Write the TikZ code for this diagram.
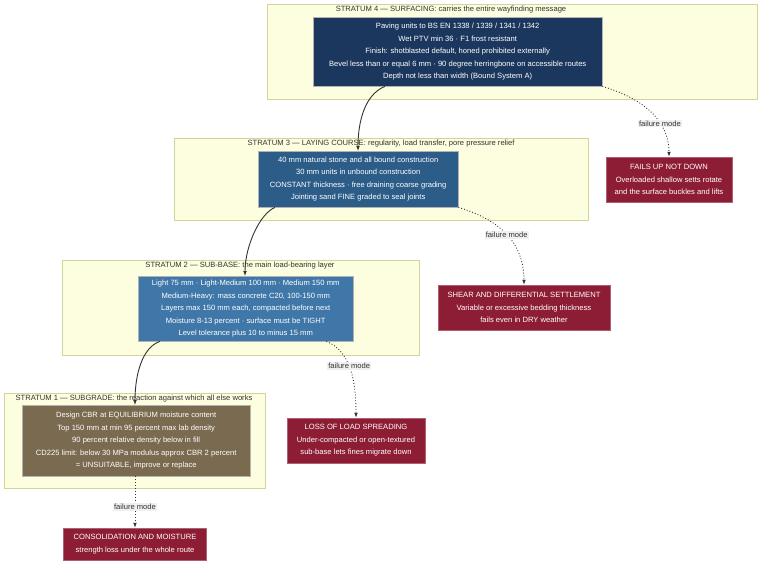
\documentclass[tikz,border=0pt]{standalone}
\usepackage{fontspec}
\setmainfont{Liberation Sans}
\usetikzlibrary{arrows.meta}
\definecolor{clfill}{HTML}{FDFDE0}\definecolor{cldraw}{HTML}{D2D49A}
\definecolor{sfour}{HTML}{1C375E}\definecolor{sthree}{HTML}{2C5C88}
\definecolor{stwo}{HTML}{3F77A8}\definecolor{sone}{HTML}{7A6A4F}
\definecolor{fail}{HTML}{8C1D35}
\begin{document}
\begin{tikzpicture}[x=1pt,y=-1pt,font=\fontsize{7.6}{12.4}\selectfont,
 cl/.style={draw=cldraw,fill=clfill,line width=0.6pt},
 ctitle/.style={text=black!80,anchor=center,inner sep=0pt},
 box/.style={draw=black!30,text=white,align=center,anchor=north west,minimum width=#1,inner sep=0pt},
 fl/.style={fill=fail,draw=fail!70!white,text=white,align=center,inner sep=0pt},
 sol/.style={draw=black!80,line width=0.9pt,-{Latex[length=5pt]}},
 dot/.style={draw=black!80,line width=0.9pt,dotted,-{Latex[length=5pt]}},
 lab/.style={fill=black!6,text=black!80,inner sep=1pt}]
\useasboundingbox (0,0) rectangle (760,564);
\fill[white] (0,0) rectangle (760,564);
% clusters
\draw[cl] (267,4) rectangle (757,99);
\node[ctitle] (t4) at (451,10) {STRATUM 4 — SURFACING: carries the entire wayfinding message};
\draw[cl] (174,138) rectangle (588,220);
\node[ctitle] (t3) at (381,144) {STRATUM 3 — LAYING COURSE: regularity, load transfer, pore pressure relief};
\draw[cl] (62,260) rectangle (419,355);
\node[ctitle] (t2) at (240,266) {STRATUM 2 — SUB-BASE: the main load-bearing layer};
\draw[cl] (4,393) rectangle (265,488);
\node[ctitle] (t1) at (134,399) {STRATUM 1 — SUBGRADE: the reaction against which all else works};
% nodes
\node[box=289pt,fill=sfour,minimum height=69pt] (n4) at (313,17) {Paving units to BS EN 1338 / 1339 / 1341 / 1342\\Wet PTV min 36 · F1 frost resistant\\Finish: shotblasted default, honed prohibited externally\\Bevel less than or equal 6 mm · 90 degree herringbone on accessible routes\\Depth not less than width (Bound System A)};
\node[box=200pt,fill=sthree,minimum height=56pt] (n3) at (258,151) {40 mm natural stone and all bound construction\\30 mm units in unbound construction\\CONSTANT thickness · free draining coarse grading\\Jointing sand FINE graded to seal joints};
\node[box=215pt,fill=stwo,minimum height=65pt] (n2) at (138,276) {Light 75 mm · Light-Medium 100 mm · Medium 150 mm\\Medium-Heavy: mass concrete C20, 100-150 mm\\Layers max 150 mm each, compacted before next\\Moisture 8-13 percent · surface must be TIGHT\\Level tolerance plus 10 to minus 15 mm};
\node[box=228pt,fill=sone,minimum height=71pt] (n1) at (22,405) {Design CBR at EQUILIBRIUM moisture content\\Top 150 mm at min 95 percent max lab density\\90 percent relative density below in fill\\CD225 limit: below 30 MPa modulus approx CBR 2 percent\\= UNSUITABLE, improve or replace};
% failure nodes
\node[fl,minimum width=126pt,minimum height=45pt] (f4) at (669,179.5) {FAILS UP NOT DOWN\\Overloaded shallow setts rotate\\and the surface buckles and lifts};
\node[fl,minimum width=172pt,minimum height=45pt] (f3) at (524,307.5) {SHEAR AND DIFFERENTIAL SETTLEMENT\\Variable or excessive bedding thickness\\fails even in DRY weather};
\node[fl,minimum width=138pt,minimum height=45pt] (f2) at (356,440.5) {LOSS OF LOAD SPREADING\\Under-compacted or open-textured\\sub-base lets fines migrate down};
\node[fl,minimum width=143pt,minimum height=32pt] (f1) at (135,544) {CONSOLIDATION AND MOISTURE\\strength loss under the whole route};
% solid connectors
\draw[sol] ([xshift=72pt]n4.south west) .. controls +(-20,8) and +(0,-30) .. ([xshift=100pt]n3.north west);
\draw[sol] ([xshift=17pt]n3.south west) .. controls +(-15,6) and +(0,-30) .. ([xshift=107pt]n2.north west);
\draw[sol] ([xshift=22pt]n2.south west) .. controls +(-18,6) and +(0,-30) .. ([xshift=113pt]n1.north west);
% dotted connectors
\draw[dot] (n4.south east) .. controls +(50,15) and +(0,-30) .. node[lab,pos=0.6] {failure mode} (f4.north);
\draw[dot] (n3.south east) .. controls +(50,15) and +(0,-35) .. node[lab,pos=0.45] {failure mode} (f3.north);
\draw[dot] ([xshift=-27pt]n2.south east) .. controls +(25,10) and +(0,-35) .. node[lab,pos=0.45] {failure mode} (f2.north);
\draw[dot] ([xshift=113pt]n1.south west) -- node[lab,pos=0.6] {failure mode} (f1.north);
\end{tikzpicture}
\end{document}
